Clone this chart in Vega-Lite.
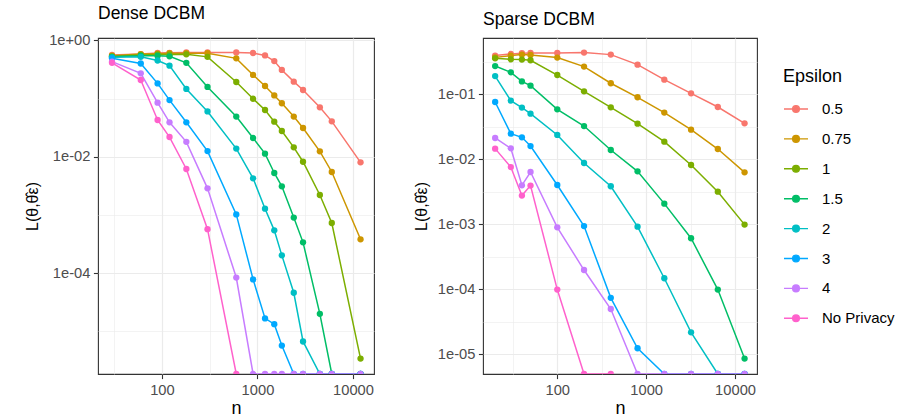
{
  "$schema": "https://vega.github.io/schema/vega-lite/v6.json",
  "padding": {"left": 24, "top": 4, "right": 5, "bottom": 2},
  "autosize": {"type": "pad"},
  "config": {
    "font": "Liberation Sans",
    "view": {"stroke": "#333333", "strokeWidth": 1.1},
    "axis": {"labelColor": "#4D4D4D", "labelFontSize": 14.7, "titleFontSize": 18, "titleFontWeight": "normal", "titleColor": "#000000", "tickColor": "#333333", "tickSize": 4.6, "tickWidth": 1.1, "labelPadding": 3.5, "domain": false, "gridColor": "#EBEBEB", "labelFlush": false, "labelOverlap": false},
    "title": {"fontSize": 17.5, "fontWeight": "normal", "color": "#000000", "anchor": "start", "frame": "group", "offset": 10},
    "legend": {"titleFontSize": 18, "titleFontWeight": "normal", "titleColor": "#000000", "labelFontSize": 15, "labelColor": "#000000"}
  },
  "datasets": {
    "dense": [
      {"n": 30, "eps": "0.5", "L": 0.56}, {"n": 60, "eps": "0.5", "L": 0.58}, {"n": 90, "eps": "0.5", "L": 0.605}, {"n": 120, "eps": "0.5", "L": 0.61}, {"n": 180, "eps": "0.5", "L": 0.62}, {"n": 300, "eps": "0.5", "L": 0.62}, {"n": 600, "eps": "0.5", "L": 0.62}, {"n": 900, "eps": "0.5", "L": 0.605}, {"n": 1200, "eps": "0.5", "L": 0.55}, {"n": 1500, "eps": "0.5", "L": 0.44}, {"n": 1800, "eps": "0.5", "L": 0.31}, {"n": 2400, "eps": "0.5", "L": 0.195}, {"n": 3000, "eps": "0.5", "L": 0.14}, {"n": 4500, "eps": "0.5", "L": 0.0706}, {"n": 6000, "eps": "0.5", "L": 0.0405}, {"n": 12000, "eps": "0.5", "L": 0.008},
      {"n": 30, "eps": "0.75", "L": 0.545}, {"n": 60, "eps": "0.75", "L": 0.58}, {"n": 90, "eps": "0.75", "L": 0.59}, {"n": 120, "eps": "0.75", "L": 0.6}, {"n": 180, "eps": "0.75", "L": 0.6}, {"n": 300, "eps": "0.75", "L": 0.6}, {"n": 600, "eps": "0.75", "L": 0.49}, {"n": 900, "eps": "0.75", "L": 0.254}, {"n": 1200, "eps": "0.75", "L": 0.164}, {"n": 1500, "eps": "0.75", "L": 0.113}, {"n": 1800, "eps": "0.75", "L": 0.083}, {"n": 2400, "eps": "0.75", "L": 0.0489}, {"n": 3000, "eps": "0.75", "L": 0.0312}, {"n": 4500, "eps": "0.75", "L": 0.0124}, {"n": 6000, "eps": "0.75", "L": 0.00547}, {"n": 12000, "eps": "0.75", "L": 0.000381},
      {"n": 30, "eps": "1", "L": 0.53}, {"n": 60, "eps": "1", "L": 0.56}, {"n": 90, "eps": "1", "L": 0.57}, {"n": 120, "eps": "1", "L": 0.57}, {"n": 180, "eps": "1", "L": 0.575}, {"n": 300, "eps": "1", "L": 0.52}, {"n": 600, "eps": "1", "L": 0.192}, {"n": 900, "eps": "1", "L": 0.099}, {"n": 1200, "eps": "1", "L": 0.0635}, {"n": 1500, "eps": "1", "L": 0.04}, {"n": 1800, "eps": "1", "L": 0.0277}, {"n": 2400, "eps": "1", "L": 0.0145}, {"n": 3000, "eps": "1", "L": 0.0082}, {"n": 4500, "eps": "1", "L": 0.0022}, {"n": 6000, "eps": "1", "L": 0.000726}, {"n": 12000, "eps": "1", "L": 0.0000034},
      {"n": 30, "eps": "1.5", "L": 0.52}, {"n": 60, "eps": "1.5", "L": 0.545}, {"n": 90, "eps": "1.5", "L": 0.545}, {"n": 120, "eps": "1.5", "L": 0.53}, {"n": 180, "eps": "1.5", "L": 0.41}, {"n": 300, "eps": "1.5", "L": 0.158}, {"n": 600, "eps": "1.5", "L": 0.049}, {"n": 900, "eps": "1.5", "L": 0.021}, {"n": 1200, "eps": "1.5", "L": 0.0113}, {"n": 1500, "eps": "1.5", "L": 0.00526}, {"n": 1800, "eps": "1.5", "L": 0.0031}, {"n": 2400, "eps": "1.5", "L": 0.0009}, {"n": 3000, "eps": "1.5", "L": 0.000338}, {"n": 4500, "eps": "1.5", "L": 0.00002}, {"n": 6000, "eps": "1.5", "L": 1e-9}, {"n": 12000, "eps": "1.5", "L": 1e-9},
      {"n": 30, "eps": "2", "L": 0.51}, {"n": 60, "eps": "2", "L": 0.52}, {"n": 90, "eps": "2", "L": 0.45}, {"n": 120, "eps": "2", "L": 0.367}, {"n": 180, "eps": "2", "L": 0.146}, {"n": 300, "eps": "2", "L": 0.06}, {"n": 600, "eps": "2", "L": 0.0138}, {"n": 900, "eps": "2", "L": 0.00426}, {"n": 1200, "eps": "2", "L": 0.00128}, {"n": 1500, "eps": "2", "L": 0.000543}, {"n": 1800, "eps": "2", "L": 0.000202}, {"n": 2400, "eps": "2", "L": 0.000046}, {"n": 3000, "eps": "2", "L": 0.0000067}, {"n": 4500, "eps": "2", "L": 1e-9}, {"n": 6000, "eps": "2", "L": 1e-9}, {"n": 12000, "eps": "2", "L": 1e-9},
      {"n": 30, "eps": "3", "L": 0.49}, {"n": 60, "eps": "3", "L": 0.4}, {"n": 90, "eps": "3", "L": 0.182}, {"n": 120, "eps": "3", "L": 0.094}, {"n": 180, "eps": "3", "L": 0.039}, {"n": 300, "eps": "3", "L": 0.0125}, {"n": 600, "eps": "3", "L": 0.00102}, {"n": 900, "eps": "3", "L": 0.000078}, {"n": 1200, "eps": "3", "L": 0.0000167}, {"n": 1500, "eps": "3", "L": 0.0000133}, {"n": 1800, "eps": "3", "L": 0.0000057}, {"n": 2400, "eps": "3", "L": 1e-9}, {"n": 3000, "eps": "3", "L": 1e-9}, {"n": 4500, "eps": "3", "L": 1e-9}, {"n": 6000, "eps": "3", "L": 1e-9}, {"n": 12000, "eps": "3", "L": 1e-9},
      {"n": 30, "eps": "4", "L": 0.43}, {"n": 60, "eps": "4", "L": 0.271}, {"n": 90, "eps": "4", "L": 0.085}, {"n": 120, "eps": "4", "L": 0.039}, {"n": 180, "eps": "4", "L": 0.018}, {"n": 300, "eps": "4", "L": 0.00286}, {"n": 600, "eps": "4", "L": 0.000084}, {"n": 900, "eps": "4", "L": 1e-9}, {"n": 1200, "eps": "4", "L": 1e-9}, {"n": 1500, "eps": "4", "L": 1e-9}, {"n": 1800, "eps": "4", "L": 1e-9}, {"n": 2400, "eps": "4", "L": 1e-9}, {"n": 3000, "eps": "4", "L": 1e-9}, {"n": 4500, "eps": "4", "L": 1e-9}, {"n": 6000, "eps": "4", "L": 1e-9}, {"n": 12000, "eps": "4", "L": 1e-9},
      {"n": 30, "eps": "No Privacy", "L": 0.41}, {"n": 60, "eps": "No Privacy", "L": 0.208}, {"n": 90, "eps": "No Privacy", "L": 0.0428}, {"n": 120, "eps": "No Privacy", "L": 0.0218}, {"n": 180, "eps": "No Privacy", "L": 0.00615}, {"n": 300, "eps": "No Privacy", "L": 0.00057}, {"n": 600, "eps": "No Privacy", "L": 1e-9}
    ],
    "sparse": [
      {"n": 20, "eps": "0.5", "L": 0.394}, {"n": 30, "eps": "0.5", "L": 0.417}, {"n": 40, "eps": "0.5", "L": 0.428}, {"n": 50, "eps": "0.5", "L": 0.433}, {"n": 100, "eps": "0.5", "L": 0.433}, {"n": 200, "eps": "0.5", "L": 0.438}, {"n": 400, "eps": "0.5", "L": 0.408}, {"n": 800, "eps": "0.5", "L": 0.286}, {"n": 1600, "eps": "0.5", "L": 0.168}, {"n": 3200, "eps": "0.5", "L": 0.1035}, {"n": 6400, "eps": "0.5", "L": 0.0638}, {"n": 12800, "eps": "0.5", "L": 0.0358},
      {"n": 20, "eps": "0.75", "L": 0.37}, {"n": 30, "eps": "0.75", "L": 0.394}, {"n": 40, "eps": "0.75", "L": 0.408}, {"n": 50, "eps": "0.75", "L": 0.403}, {"n": 100, "eps": "0.75", "L": 0.367}, {"n": 200, "eps": "0.75", "L": 0.267}, {"n": 400, "eps": "0.75", "L": 0.148}, {"n": 800, "eps": "0.75", "L": 0.09}, {"n": 1600, "eps": "0.75", "L": 0.0523}, {"n": 3200, "eps": "0.75", "L": 0.0286}, {"n": 6400, "eps": "0.75", "L": 0.0144}, {"n": 12800, "eps": "0.75", "L": 0.0063},
      {"n": 20, "eps": "1", "L": 0.358}, {"n": 30, "eps": "1", "L": 0.345}, {"n": 40, "eps": "1", "L": 0.342}, {"n": 50, "eps": "1", "L": 0.334}, {"n": 100, "eps": "1", "L": 0.198}, {"n": 200, "eps": "1", "L": 0.111}, {"n": 400, "eps": "1", "L": 0.063}, {"n": 800, "eps": "1", "L": 0.0354}, {"n": 1600, "eps": "1", "L": 0.0187}, {"n": 3200, "eps": "1", "L": 0.00818}, {"n": 6400, "eps": "1", "L": 0.00318}, {"n": 12800, "eps": "1", "L": 0.00099},
      {"n": 20, "eps": "1.5", "L": 0.272}, {"n": 30, "eps": "1.5", "L": 0.218}, {"n": 40, "eps": "1.5", "L": 0.158}, {"n": 50, "eps": "1.5", "L": 0.136}, {"n": 100, "eps": "1.5", "L": 0.0588}, {"n": 200, "eps": "1.5", "L": 0.0325}, {"n": 400, "eps": "1.5", "L": 0.0139}, {"n": 800, "eps": "1.5", "L": 0.00653}, {"n": 1600, "eps": "1.5", "L": 0.00208}, {"n": 3200, "eps": "1.5", "L": 0.00061}, {"n": 6400, "eps": "1.5", "L": 0.000099}, {"n": 12800, "eps": "1.5", "L": 0.0000086},
      {"n": 20, "eps": "2", "L": 0.191}, {"n": 30, "eps": "2", "L": 0.08}, {"n": 40, "eps": "2", "L": 0.0624}, {"n": 50, "eps": "2", "L": 0.0504}, {"n": 100, "eps": "2", "L": 0.0237}, {"n": 200, "eps": "2", "L": 0.00877}, {"n": 400, "eps": "2", "L": 0.00385}, {"n": 800, "eps": "2", "L": 0.00092}, {"n": 1600, "eps": "2", "L": 0.000148}, {"n": 3200, "eps": "2", "L": 0.0000218}, {"n": 6400, "eps": "2", "L": 1e-9}, {"n": 12800, "eps": "2", "L": 1e-9},
      {"n": 20, "eps": "3", "L": 0.0762}, {"n": 30, "eps": "3", "L": 0.0248}, {"n": 40, "eps": "3", "L": 0.0218}, {"n": 50, "eps": "3", "L": 0.016}, {"n": 100, "eps": "3", "L": 0.00403}, {"n": 200, "eps": "3", "L": 0.00094}, {"n": 400, "eps": "3", "L": 0.000074}, {"n": 800, "eps": "3", "L": 0.0000124}, {"n": 1600, "eps": "3", "L": 1e-9}, {"n": 3200, "eps": "3", "L": 1e-9}, {"n": 6400, "eps": "3", "L": 1e-9}, {"n": 12800, "eps": "3", "L": 1e-9},
      {"n": 20, "eps": "4", "L": 0.0213}, {"n": 30, "eps": "4", "L": 0.01475}, {"n": 40, "eps": "4", "L": 0.00398}, {"n": 50, "eps": "4", "L": 0.00638}, {"n": 100, "eps": "4", "L": 0.0009}, {"n": 200, "eps": "4", "L": 0.000198}, {"n": 400, "eps": "4", "L": 0.0000498}, {"n": 800, "eps": "4", "L": 1e-9}, {"n": 1600, "eps": "4", "L": 1e-9}, {"n": 3200, "eps": "4", "L": 1e-9}, {"n": 6400, "eps": "4", "L": 1e-9}, {"n": 12800, "eps": "4", "L": 1e-9},
      {"n": 20, "eps": "No Privacy", "L": 0.0146}, {"n": 30, "eps": "No Privacy", "L": 0.0076}, {"n": 40, "eps": "No Privacy", "L": 0.00277}, {"n": 50, "eps": "No Privacy", "L": 0.00394}, {"n": 100, "eps": "No Privacy", "L": 0.000099}, {"n": 200, "eps": "No Privacy", "L": 1e-9}, {"n": 400, "eps": "No Privacy", "L": 1e-9}
    ]
  },
  "spacing": 37,
  "resolve": {"scale": {"x": "independent", "y": "independent", "color": "shared"}},
  "hconcat": [
    {
      "width": 276, "height": 336,
      "title": {"text": "Dense DCBM"},
      "data": {"name": "dense"},
      "encoding": {
        "x": {"field": "n", "type": "quantitative",
          "scale": {"type": "log", "domain": [21.4, 16600], "nice": false, "zero": false},
          "axis": {"title": "n", "titlePadding": 3, "values": [31.62, 100, 316.2, 1000, 3162, 10000],
            "labelExpr": "abs(log(datum.value)/LN10 - round(log(datum.value)/LN10)) < 0.01 ? format(datum.value, 'd') : ''",
            "tickOpacity": {"condition": {"test": "abs(log(datum.value)/LN10 - round(log(datum.value)/LN10)) < 0.01", "value": 1}, "value": 0},
            "gridWidth": {"condition": {"test": "abs(log(datum.value)/LN10 - round(log(datum.value)/LN10)) < 0.01", "value": 1.2}, "value": 0.6}}},
        "y": {"field": "L", "type": "quantitative",
          "scale": {"type": "log", "domain": [1.85e-6, 1.096], "nice": false, "zero": false, "clamp": true},
          "axis": {"title": "L(θ,θ̂ε)", "titleFontSize": 16, "titlePadding": 8, "values": [1, 0.1, 0.01, 0.001, 0.0001, 0.00001],
            "labelExpr": "round(log(datum.value)/LN10) % 2 == 0 ? ('1e' + (datum.value >= 1 ? '+00' : '-0' + (-round(log(datum.value)/LN10)))) : ''",
            "tickOpacity": {"condition": {"test": "round(log(datum.value)/LN10) % 2 == 0", "value": 1}, "value": 0},
            "gridWidth": {"condition": {"test": "round(log(datum.value)/LN10) % 2 == 0", "value": 1.2}, "value": 0.6}}},
        "color": {"field": "eps", "type": "nominal",
          "scale": {"domain": ["0.5", "0.75", "1", "1.5", "2", "3", "4", "No Privacy"], "range": ["#F8766D", "#CD9600", "#7CAE00", "#00BE67", "#00BFC4", "#00A9FF", "#C77CFF", "#FF61CC"]},
          "legend": {"title": "Epsilon", "orient": "none", "legendX": 685, "legendY": 30, "symbolType": "M-1,0H1M-0.28,0a0.28,0.28 0 1,0 0.56,0a0.28,0.28 0 1,0 -0.56,0", "symbolSize": 576, "symbolStrokeWidth": 1.4, "rowPadding": 8.9, "titlePadding": 10, "labelOffset": 13,
            "encode": {"symbols": {"update": {"fill": {"scale": "color", "field": "value"}, "stroke": {"scale": "color", "field": "value"}, "opacity": {"value": 1}}}}}}
      },
      "layer": [
        {"mark": {"type": "line", "strokeWidth": 1.5, "clip": true}},
        {"mark": {"type": "point", "filled": true, "size": 40, "opacity": 1, "clip": true}}
      ]
    },
    {
      "width": 274, "height": 336,
      "title": {"text": "Sparse DCBM"},
      "data": {"name": "sparse"},
      "encoding": {
        "x": {"field": "n", "type": "quantitative",
          "scale": {"type": "log", "domain": [14.6, 17660], "nice": false, "zero": false},
          "axis": {"title": "n", "titlePadding": 3, "values": [31.62, 100, 316.2, 1000, 3162, 10000],
            "labelExpr": "abs(log(datum.value)/LN10 - round(log(datum.value)/LN10)) < 0.01 ? format(datum.value, 'd') : ''",
            "tickOpacity": {"condition": {"test": "abs(log(datum.value)/LN10 - round(log(datum.value)/LN10)) < 0.01", "value": 1}, "value": 0},
            "gridWidth": {"condition": {"test": "abs(log(datum.value)/LN10 - round(log(datum.value)/LN10)) < 0.01", "value": 1.2}, "value": 0.6}}},
        "y": {"field": "L", "type": "quantitative",
          "scale": {"type": "log", "domain": [4.98e-6, 0.735], "nice": false, "zero": false, "clamp": true},
          "axis": {"title": "L(θ,θ̂ε)", "titleFontSize": 16, "titlePadding": 8, "values": [0.3162, 0.1, 0.03162, 0.01, 0.003162, 0.001, 0.0003162, 0.0001, 0.00003162, 0.00001],
            "labelExpr": "abs(log(datum.value)/LN10 - round(log(datum.value)/LN10)) < 0.01 ? ('1e-0' + (-round(log(datum.value)/LN10))) : ''",
            "tickOpacity": {"condition": {"test": "abs(log(datum.value)/LN10 - round(log(datum.value)/LN10)) < 0.01", "value": 1}, "value": 0},
            "gridWidth": {"condition": {"test": "abs(log(datum.value)/LN10 - round(log(datum.value)/LN10)) < 0.01", "value": 1.2}, "value": 0.6}}},
        "color": {"field": "eps", "type": "nominal"}
      },
      "layer": [
        {"mark": {"type": "line", "strokeWidth": 1.5, "clip": true}},
        {"mark": {"type": "point", "filled": true, "size": 40, "opacity": 1, "clip": true}}
      ]
    }
  ]
}
